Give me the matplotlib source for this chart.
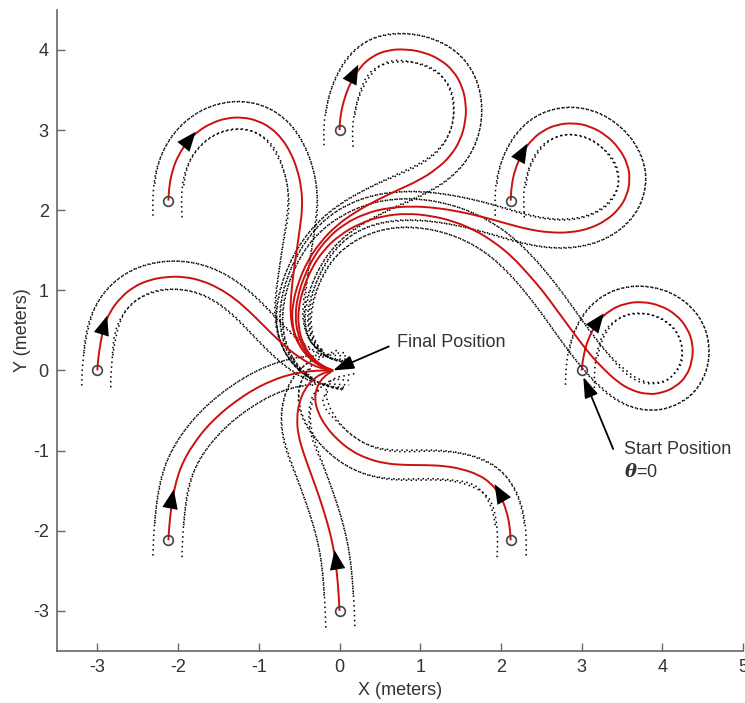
import numpy as np
import matplotlib.pyplot as plt
from matplotlib.path import Path
from matplotlib.patches import PathPatch

plt.rcParams['font.family'] = ['Liberation Sans', 'DejaVu Sans']
plt.rcParams['axes.unicode_minus'] = False
plt.rcParams['mathtext.fontset'] = 'dejavuserif'

# robot centre paths in metres, every run starts pointing +y and ends at the goal
path_a = [(-3.0, 0.0), (-2.99, 0.15), (-2.96, 0.35), (-2.92, 0.55), (-2.84, 0.74), (-2.72, 0.9),
          (-2.56, 1.04), (-2.36, 1.13), (-2.14, 1.17), (-1.92, 1.17), (-1.7, 1.12), (-1.5, 1.03),
          (-1.3, 0.9), (-1.12, 0.74), (-0.95, 0.57), (-0.8, 0.42), (-0.64, 0.27), (-0.48, 0.15),
          (-0.32, 0.06), (-0.18, 0.015), (-0.08, 0.0)]
path_b = [(-2.12, 2.12), (-2.11, 2.3), (-2.07, 2.5), (-2.0, 2.68), (-1.89, 2.85), (-1.75, 2.99),
          (-1.58, 3.09), (-1.4, 3.15), (-1.2, 3.16), (-1.02, 3.12), (-0.85, 3.03), (-0.71, 2.89),
          (-0.6, 2.71), (-0.52, 2.5), (-0.47, 2.27), (-0.46, 2.03), (-0.49, 1.78), (-0.53, 1.5),
          (-0.57, 1.22), (-0.6, 0.95), (-0.61, 0.72), (-0.58, 0.5), (-0.5, 0.31), (-0.38, 0.16),
          (-0.24, 0.06), (-0.08, 0.0)]
path_c = [(0.0, 3.0), (0.01, 3.18), (0.06, 3.4), (0.14, 3.6), (0.25, 3.78), (0.4, 3.92), (0.6, 4.0),
          (0.83, 4.01), (1.05, 3.97), (1.25, 3.88), (1.41, 3.74), (1.52, 3.55), (1.57, 3.32),
          (1.56, 3.1), (1.5, 2.88), (1.38, 2.68), (1.2, 2.51), (0.98, 2.37), (0.72, 2.25),
          (0.45, 2.12), (0.2, 1.98), (-0.04, 1.81), (-0.24, 1.6), (-0.4, 1.36), (-0.51, 1.1),
          (-0.58, 0.84), (-0.59, 0.6), (-0.54, 0.4), (-0.44, 0.22), (-0.3, 0.09), (-0.16, 0.02),
          (-0.08, 0.0)]
path_d = [(2.12, 2.12), (2.13, 2.3), (2.17, 2.5), (2.26, 2.71), (2.38, 2.88), (2.53, 3.0),
          (2.7, 3.07), (2.9, 3.09), (3.1, 3.05), (3.3, 2.94), (3.46, 2.78), (3.57, 2.58),
          (3.6, 2.38), (3.56, 2.18), (3.46, 2.01), (3.3, 1.87), (3.1, 1.77), (2.86, 1.72),
          (2.6, 1.72), (2.34, 1.76), (2.08, 1.83), (1.8, 1.91), (1.5, 1.98), (1.2, 2.03),
          (0.9, 2.05), (0.6, 2.03), (0.32, 1.96), (0.06, 1.83), (-0.15, 1.65), (-0.32, 1.42),
          (-0.44, 1.17), (-0.52, 0.92), (-0.55, 0.68), (-0.52, 0.46), (-0.44, 0.26),
          (-0.32, 0.12), (-0.18, 0.03), (-0.08, 0.0)]
path_e = [(3.0, 0.0), (3.02, 0.18), (3.08, 0.4), (3.19, 0.6), (3.34, 0.75), (3.54, 0.84),
          (3.76, 0.86), (3.98, 0.81), (4.17, 0.7), (4.31, 0.53), (4.38, 0.33), (4.37, 0.12),
          (4.3, -0.07), (4.17, -0.2), (4.0, -0.28), (3.82, -0.3), (3.62, -0.25), (3.44, -0.14),
          (3.27, 0.02), (3.12, 0.18), (2.98, 0.36), (2.84, 0.55), (2.68, 0.77), (2.52, 0.99),
          (2.34, 1.2), (2.14, 1.42), (1.92, 1.6), (1.68, 1.75), (1.42, 1.86), (1.14, 1.93),
          (0.84, 1.96), (0.54, 1.93), (0.26, 1.84), (0.0, 1.69), (-0.2, 1.5), (-0.35, 1.27),
          (-0.45, 1.02), (-0.51, 0.78), (-0.51, 0.55), (-0.46, 0.35), (-0.36, 0.18),
          (-0.22, 0.06), (-0.08, 0.0)]
path_f = [(2.12, -2.12), (2.11, -1.95), (2.07, -1.75), (1.99, -1.55), (1.87, -1.4), (1.72, -1.3),
          (1.52, -1.23), (1.3, -1.19), (1.05, -1.18), (0.8, -1.18), (0.56, -1.16), (0.34, -1.1),
          (0.14, -1.0), (-0.03, -0.86), (-0.17, -0.7), (-0.27, -0.52), (-0.31, -0.35),
          (-0.28, -0.2), (-0.2, -0.08), (-0.08, 0.0)]
path_g = [(0.0, -3.0), (-0.01, -2.8), (-0.03, -2.55), (-0.06, -2.3), (-0.11, -2.05), (-0.18, -1.8),
          (-0.26, -1.55), (-0.35, -1.3), (-0.44, -1.05), (-0.51, -0.82), (-0.53, -0.6),
          (-0.5, -0.4), (-0.43, -0.23), (-0.32, -0.1), (-0.2, -0.03), (-0.08, 0.0)]
path_h = [(-2.12, -2.12), (-2.11, -1.95), (-2.09, -1.75), (-2.06, -1.55), (-2.01, -1.33),
          (-1.93, -1.12), (-1.81, -0.92), (-1.66, -0.72), (-1.48, -0.54), (-1.28, -0.38),
          (-1.07, -0.24), (-0.85, -0.13), (-0.62, -0.05), (-0.4, -0.01), (-0.22, 0.0), (-0.08, 0.0)]

paths = [path_a, path_b, path_c, path_d, path_e, path_f, path_g, path_h]

# where the direction arrow sits on each path
arrow_pts = [(-2.92, 0.55), (-1.87, 2.87), (0.17, 3.69), (2.26, 2.71),
             (3.19, 0.6), (1.99, -1.54), (-0.04, -2.38), (-2.08, -1.62)]

goal = (-0.08, 0.0)

# robot footprint: half length along heading, half width across it
half_len = 0.2
half_wid = 0.18


def corner_traces(p):
    """Trace of the four footprint corners along a centre path."""
    x, y = p[:, 0], p[:, 1]
    th = np.arctan2(np.gradient(y), np.gradient(x))
    c, s = np.cos(th), np.sin(th)
    traces = []
    for lx in (-half_len, half_len):
        for ly in (-half_wid, half_wid):
            traces.append(np.column_stack([x + lx * c - ly * s, y + lx * s + ly * c]))
    return traces


def smooth_path(pts):
    """Quadratic bezier path using the given points as control vertices."""
    verts = [pts[0], (pts[0] + pts[1]) / 2]
    codes = [Path.MOVETO, Path.LINETO]
    for k in range(1, len(pts) - 1):
        verts += [pts[k], (pts[k] + pts[k + 1]) / 2]
        codes += [Path.CURVE3, Path.CURVE3]
    verts.append(pts[-1])
    codes.append(Path.LINETO)
    return Path(verts, codes)


fig = plt.figure(figsize=(7.45, 7.03), dpi=100)
ax = fig.add_axes([0.0765, 0.074, 0.921, 0.912])

for path, apt in zip(paths, arrow_pts):
    p = np.array(path)
    for tr in corner_traces(p):
        ax.add_patch(PathPatch(smooth_path(tr), fill=False, edgecolor='k', lw=1.1,
                               linestyle=(0, (1.0, 2.2)), zorder=2))
    ax.add_patch(PathPatch(smooth_path(p), fill=False, edgecolor='#cc1010', lw=1.4, zorder=3))
    ax.plot(p[0, 0], p[0, 1], 'o', ms=7, mfc='none', mec='#444444', mew=1.2, zorder=4)

    # arrow head pointing along the local direction of travel
    i = int(np.argmin(np.hypot(p[:, 0] - apt[0], p[:, 1] - apt[1])))
    i = min(max(i, 1), len(p) - 2)
    d = p[i + 1] - p[i - 1]
    d = d / np.hypot(*d)
    ax.annotate('', xy=(apt[0] + 0.14 * d[0], apt[1] + 0.14 * d[1]),
                xytext=(apt[0] - 0.14 * d[0], apt[1] - 0.14 * d[1]),
                arrowprops=dict(arrowstyle='-|>,head_length=1.0,head_width=0.4',
                                mutation_scale=14, color='k', lw=0,
                                shrinkA=0, shrinkB=0), zorder=5)

txt_color = '#333333'
ax.annotate('', xy=goal, xytext=(0.61, 0.30),
            arrowprops=dict(arrowstyle='-|>,head_length=0.9,head_width=0.3',
                            mutation_scale=14, color='k', lw=1.3,
                            shrinkA=0, shrinkB=0), zorder=6)
ax.text(0.71, 0.35, 'Final Position', fontsize=13, color=txt_color, ha='left', va='center')

ax.annotate('', xy=(3.02, -0.08), xytext=(3.39, -0.98),
            arrowprops=dict(arrowstyle='-|>,head_length=0.9,head_width=0.3',
                            mutation_scale=14, color='k', lw=1.3,
                            shrinkA=0, shrinkB=0), zorder=6)
ax.text(3.53, -0.99, 'Start Position', fontsize=13, color=txt_color, ha='left', va='center')
ax.text(3.53, -1.27, r'$\boldsymbol{\theta}$=0', fontsize=13, color=txt_color,
        ha='left', va='center')

ax.set_xlim(-3.5, 5)
ax.set_ylim(-3.5, 4.5)
ax.set_xticks(range(-3, 6))
ax.set_yticks(range(-3, 5))
ax.spines['top'].set_visible(False)
ax.spines['right'].set_visible(False)
for side in ('left', 'bottom'):
    ax.spines[side].set_color('#666666')
    ax.spines[side].set_linewidth(1.2)
ax.tick_params(direction='in', length=6, width=1.0, color='#666666',
               labelsize=13, labelcolor=txt_color, pad=6)
ax.set_xlabel('X (meters)', fontsize=13, color=txt_color, labelpad=4)
ax.set_ylabel('Y (meters)', fontsize=13, color=txt_color, labelpad=1)

fig.savefig('out.png', dpi=100)
